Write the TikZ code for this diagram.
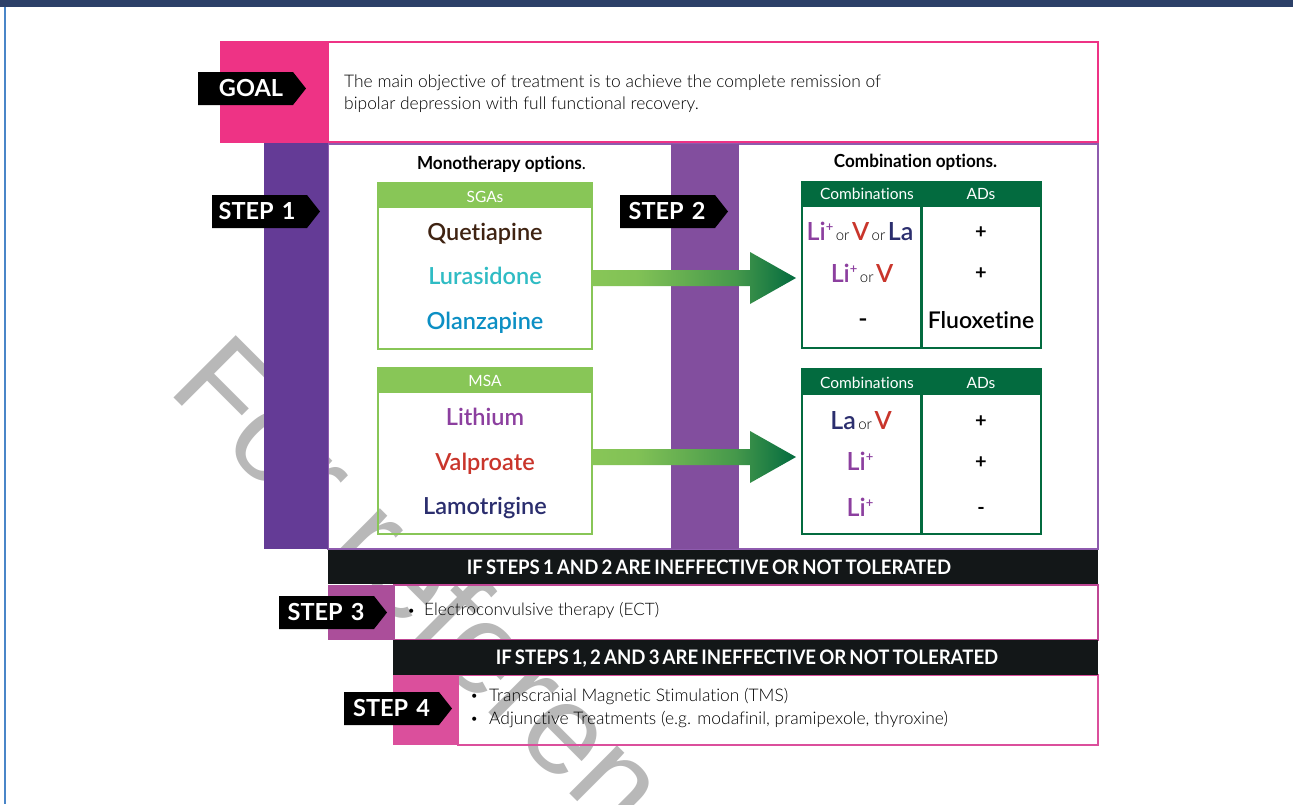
\documentclass[tikz,border=0pt]{standalone}
\usepackage{fontspec}
\usetikzlibrary{calc}
\setmainfont[Ligatures=NoCommon]{Lato}
\newfontfamily\medf[Ligatures=NoCommon]{Lato Semibold}
\newfontfamily\lightf[Ligatures=NoCommon]{Lato Light}
\newfontfamily\wmfont{Liberation Sans}
\definecolor{navybar}{HTML}{2C4068}
\definecolor{edgeblue}{HTML}{4A86C8}
\definecolor{goalpink}{HTML}{EE3385}
\definecolor{stepa}{HTML}{643B96}
\definecolor{stepaedge}{HTML}{8E5BAE}
\definecolor{stepb}{HTML}{824E9E}
\definecolor{stepc}{HTML}{AB4E9A}
\definecolor{stepd}{HTML}{DB4F9C}
\definecolor{lgreen}{HTML}{88C657}
\definecolor{dgreen}{HTML}{036B3F}
\colorlet{lgreenb}{lgreen!95!dgreen}
\colorlet{mgreen}{lgreen!50!dgreen}
\definecolor{barblack}{HTML}{131718}
\definecolor{wm}{HTML}{B8B8B8}
\definecolor{cli}{HTML}{8C3F9F}
\definecolor{cv}{HTML}{C9352B}
\definecolor{cla}{HTML}{2B2E6E}
\definecolor{cque}{HTML}{3F2312}
\definecolor{clur}{HTML}{2FBCC4}
\definecolor{colz}{HTML}{0C8FC4}
\pgfdeclarehorizontalshading{arrowgrad}{100bp}{color(0bp)=(lgreen); color(25bp)=(lgreen); color(36bp)=(lgreenb); color(60bp)=(mgreen); color(75bp)=(dgreen); color(100bp)=(dgreen)}
\newcommand{\fs}[1]{\fontsize{#1}{#1}\selectfont}
\newcommand{\tightwords}{\spaceskip=.17em\relax}
\newcommand{\Lip}{\textcolor{cli}{Li\raisebox{.36em}{\fs{13}+}}}
\newcommand{\Vv}{\textcolor{cv}{V}}
\newcommand{\Lla}{\textcolor{cla}{La}}
\newcommand{\orw}{{\lightf\fs{15}\,or\,}}
\newcommand{\tagarrow}[5]{%
  \fill[black] (#1,#2) -- ({#1+95},#2) -- ({#1+108},{#2+16.5}) -- ({#1+95},{#2+33}) -- (#1,{#2+33}) -- cycle;
  \node[tagtext] (#3) at ({#1+#5},{#2+24.5}) {#4};}
\newcommand{\blockarrow}[2]{%
  \shade[shading=arrowgrad]
    ($(#1)+(0,-8)$) -- ($(#2)+(-46,-8)$) -- ($(#2)+(-46,-26)$) -- (#2)
    -- ($(#2)+(-46,26)$) -- ($(#2)+(-46,8)$) -- ($(#1)+(0,8)$) -- cycle;}
\tikzset{
  tagtext/.style={anchor=base,inner sep=0pt,text=white,font=\bfseries\fs{23.5}},
  drug/.style={anchor=base,inner sep=0pt,font=\medf\fs{23.5}},
  headtext/.style={anchor=base,inner sep=0pt,text=white,font=\fs{15.5}},
  celltext/.style={anchor=base,inner sep=0pt,font=\medf\fs{25}},
  signtext/.style={anchor=base,inner sep=0pt,font=\bfseries\fs{20}},
  bartext/.style={anchor=base,inner sep=0pt,text=white,xscale=.93,font=\bfseries\fs{20}},
  bodytext/.style={anchor=base west,inner sep=0pt,font=\lightf\fs{17.4}},
  dottext/.style={anchor=base west,inner sep=0pt,font=\fs{11}},
  titletext/.style={anchor=base,inner sep=0pt,xscale=.95,font=\bfseries\fs{18}},
}
\begin{document}
\begin{tikzpicture}[x=1pt,y=-1pt]
\useasboundingbox (0,0) rectangle (1293,804);
\clip (0,0) rectangle (1293,804);
\fill[white] (0,0) rectangle (1293,804);
% watermark
\node[anchor=base west,inner sep=0pt,rotate=-45,text=wm,font=\wmfont\fs{128}] (mark) at (166,390) {For referen};
% frame of the page
\fill[navybar] (0,0) rectangle (1293,6.5);
\fill[edgeblue] (4,6.5) rectangle (6,804);
% goal
\draw[goalpink,line width=2pt] (328,42) rectangle (1098,142);
\fill[goalpink] (220,41) rectangle (328,143);
% steps 1 and 2
\draw[stepaedge,line width=2pt] (328,144) rectangle (1098,549);
\fill[stepa] (264,143) rectangle (328,549);
\fill[stepb] (671,144) rectangle (739,549);
% SGA / MSA
\draw[lgreen,line width=2.5pt] (378,183) rectangle (592,349);
\fill[lgreen] (377,182) rectangle (593,208);
\draw[lgreen,line width=2.5pt] (378,368) rectangle (592,534);
\fill[lgreen] (377,367) rectangle (593,393);
% tables
\draw[dgreen,line width=2.5pt] (802,182) rectangle (1041,348);
\draw[dgreen,line width=2.5pt] (921.5,182) -- (921.5,348);
\fill[dgreen] (801,181) rectangle (1042,207);
\draw[dgreen,line width=2.5pt] (802,369) rectangle (1041,534);
\draw[dgreen,line width=2.5pt] (921.5,369) -- (921.5,534);
\fill[dgreen] (801,368) rectangle (1042,395);
% arrows
\coordinate (a1s) at (592,278); \coordinate (a1e) at (796,278);
\coordinate (a2s) at (592,457); \coordinate (a2e) at (796,457);
\blockarrow{a1s}{a1e}
\blockarrow{a2s}{a2e}
% lower bars
\draw[stepc!70!goalpink,line width=1.5pt] (394,585) rectangle (1098,640);
\fill[stepc] (328,585) rectangle (395,640);
\draw[stepd,line width=1.5pt] (458,675) rectangle (1098,745);
\fill[stepd] (393,675) rectangle (459,745);
\fill[barblack] (328,550) rectangle (1098,584);
\fill[barblack] (393,640) rectangle (1098,675);
% tags
\tagarrow{198}{72}{goaltag}{GOAL}{53}
\tagarrow{212}{195}{s1tag}{STEP\hspace{.1em}\ 1}{45}
\tagarrow{620}{195}{s2tag}{STEP\hspace{.1em}\ 2}{47}
\tagarrow{279}{596}{s3tag}{STEP\hspace{.1em}\ 3}{47}
\tagarrow{344}{692}{s4tag}{STEP\hspace{.1em}\ 4}{47.5}
% texts
\node[bodytext] (g1) at (344,87) {The main objective of treatment is to achieve the complete remission of};
\node[bodytext] (g2) at (344,109) {bipolar depression with full functional recovery.};
\node[titletext] (mono) at (501.5,169.5) {Monotherapy options{\mdseries .}};
\node[titletext] (comb) at (915.5,167.5) {Combination options.};
\node[headtext] (sga) at (485,202) {SGAs};
\node[headtext] (msa) at (485,386) {MSA};
\node[drug,text=cque] (q) at (485,240.5) {Quetiapine};
\node[drug,text=clur] (l) at (485,284.5) {Lurasidone};
\node[drug,text=colz] (o) at (485,329.5) {Olanzapine};
\node[drug,text=cli] (li) at (485,425.5) {Lithium};
\node[drug,text=cv] (v) at (485,470.5) {Valproate};
\node[drug,text=cla] (la) at (485,514.5) {Lamotrigine};
\node[headtext] (h1) at (867,199) {Combinations};
\node[headtext] (h2) at (981,199) {ADs};
\node[headtext] (h3) at (867,388) {Combinations};
\node[headtext] (h4) at (981,388) {ADs};
\node[celltext] (r1) at (860,240) {\Lip\orw\Vv\orw\Lla};
\node[celltext] (r2) at (862,282) {\Lip\orw\Vv};
\node[celltext] (r3) at (863,327) {-};
\node[signtext] (p1) at (981,238) {+};
\node[signtext] (p2) at (981,279) {+};
\node[celltext,font=\medf\fs{23}] (f) at (981,328) {Fluoxetine};
\node[celltext] (r4) at (861,429) {\Lla\orw\Vv};
\node[celltext] (r5) at (860,470) {\Lip};
\node[celltext] (r6) at (860,516) {\Lip};
\node[signtext] (p3) at (981,427) {+};
\node[signtext] (p4) at (981,468) {+};
\node[signtext] (p5) at (981,514) {-};
\node[bartext] (b1) at (709,574) {\tightwords IF STEPS 1 AND 2 ARE INEFFECTIVE OR NOT TOLERATED};
\node[bartext] (b2) at (747,664) {\tightwords IF STEPS 1, 2 AND 3 ARE INEFFECTIVE OR NOT TOLERATED};
\node[dottext] (e0) at (408,614) {•};
\node[bodytext,font=\lightf\fs{17.2}] (e1) at (424,615) {Electroconvulsive therapy (ECT)};
\node[dottext] (t0) at (471,699) {•};
\node[bodytext] (t1) at (489,701) {Transcranial Magnetic Stimulation (TMS)};
\node[dottext] (a0) at (471,722) {•};
\node[bodytext] (a1) at (489,724) {Adjunctive Treatments (e.g. modafinil, pramipexole, thyroxine)};
\end{tikzpicture}
\end{document}
